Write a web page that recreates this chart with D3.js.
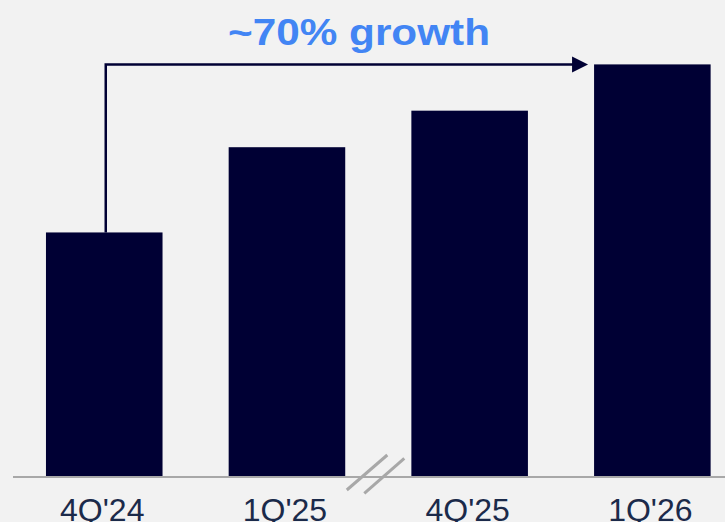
<!DOCTYPE html>
<html>
<head>
<meta charset="utf-8">
<script src="https://cdn.jsdelivr.net/npm/d3@7"></script>
<style>
  html, body { margin: 0; padding: 0; background: #f2f2f2; }
  svg { display: block; }
</style>
</head>
<body>
<div id="chart"></div>
<script>
// Quarterly values, indexed to 4Q'24 = 1.00
const quarters = ["4Q'24", "1Q'25", "4Q'25", "1Q'26"];
const values = [1.00, 1.35, 1.50, 1.69];
const headline = "~70% growth";

const width = 725, height = 522;
const baseY = 476;

const svg = d3.select("#chart").append("svg")
  .attr("width", width)
  .attr("height", height)
  .style("background", "#f2f2f2");

const x = d3.scaleBand()
  .domain(quarters)
  .range([12.9, 743.7])
  .paddingInner(0.362)
  .paddingOuter(0.181);

const y = d3.scaleLinear()
  .domain([0, 1.69])
  .range([baseY, 64.4]);

// Bars
svg.append("g").selectAll("rect")
  .data(quarters)
  .join("rect")
  .attr("x", d => x(d))
  .attr("y", (d, i) => y(values[i]))
  .attr("width", x.bandwidth())
  .attr("height", (d, i) => y(0) - y(values[i]))
  .attr("fill", "#000034");

// Baseline
svg.append("line")
  .attr("x1", 13).attr("x2", width)
  .attr("y1", baseY + 1).attr("y2", baseY + 1)
  .attr("stroke", "#a8a8a8")
  .attr("stroke-width", 2);

// Axis break marks between 1Q'25 and 4Q'25
const gapMid = (x(quarters[1]) + x.bandwidth() + x(quarters[2])) / 2;
const breaks = [
  [gapMid - 31.5, 490, gapMid + 9, 455],
  [gapMid - 14, 493.3, gapMid + 26, 458.3]
];
svg.append("g").selectAll("line")
  .data(breaks)
  .join("line")
  .attr("x1", d => d[0]).attr("y1", d => d[1])
  .attr("x2", d => d[2]).attr("y2", d => d[3])
  .attr("stroke", "#a8a8a8")
  .attr("stroke-width", 3);

// Category labels
svg.append("g").selectAll("text")
  .data(quarters)
  .join("text")
  .attr("x", d => x(d) + x.bandwidth() / 2 - 2)
  .attr("y", 521)
  .attr("text-anchor", "middle")
  .attr("font-family", "'Liberation Sans', Arial, sans-serif")
  .attr("font-size", 32)
  .attr("fill", "#1b2a4a")
  .text(d => d);

// Growth connector: from top of first bar up, across to the last bar
const first = quarters[0], last = quarters[quarters.length - 1];
const cx = x(first) + x.bandwidth() / 2 + 1.5;
const topY = y(values[values.length - 1]);
const tipX = x(last) - 6;
const headLen = 16, headHalf = 8;

svg.append("path")
  .attr("d", d3.line()([
    [cx, y(values[0])],
    [cx, topY],
    [tipX - headLen + 1, topY]
  ]))
  .attr("fill", "none")
  .attr("stroke", "#000034")
  .attr("stroke-width", 2.5);

svg.append("path")
  .attr("d", d3.line()([
    [tipX - headLen, topY - headHalf],
    [tipX, topY],
    [tipX - headLen, topY + headHalf]
  ]) + "Z")
  .attr("fill", "#000034");

// Headline
svg.append("text")
  .attr("x", 359)
  .attr("y", 44.5)
  .attr("text-anchor", "middle")
  .attr("font-family", "'Liberation Sans', Arial, sans-serif")
  .attr("font-weight", "bold")
  .attr("font-size", 37)
  .attr("fill", "#4285f4")
  .attr("textLength", 262)
  .attr("lengthAdjust", "spacingAndGlyphs")
  .text(headline);
</script>
</body>
</html>
